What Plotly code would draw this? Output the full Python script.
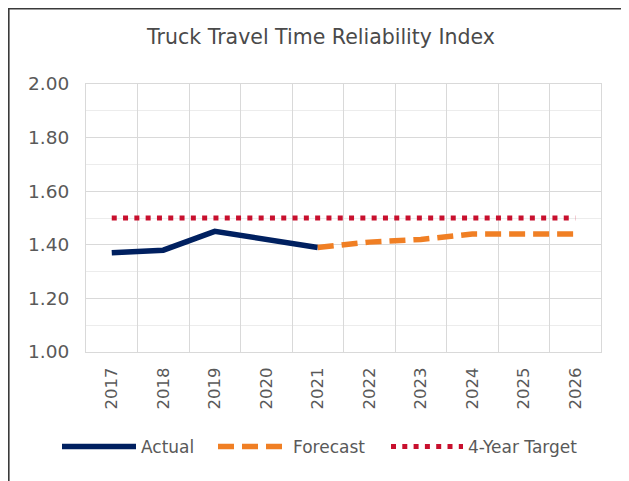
import plotly.graph_objects as go

years = ["2017", "2018", "2019", "2020", "2021", "2022", "2023", "2024", "2025", "2026"]
actual_years = ["2017", "2018", "2019", "2020", "2021"]
actual = [1.37, 1.38, 1.45, 1.42, 1.39]
forecast_years = ["2021", "2022", "2023", "2024", "2025", "2026"]
forecast = [1.39, 1.41, 1.42, 1.44, 1.44, 1.44]
target = [1.50] * 10

# page body has an 8px margin, so the figure is drawn from (8,8)
W, H = 621, 473
ml, mr, mt, mb = 78, 28, 76, 129
pw, ph = W - ml - mr, H - mt - mb


def px_x(screen_x):
    return (screen_x - 8 - ml) / pw


fig = go.Figure()
fig.add_trace(go.Scatter(x=actual_years, y=actual, mode="lines", name="Actual",
                         line=dict(color="#002060", width=5.5), legend="legend"))
fig.add_trace(go.Scatter(x=forecast_years, y=forecast, mode="lines", name="Forecast",
                         line=dict(color="#F07F24", width=5.5, dash="16px,8px"),
                         legend="legend2"))
fig.add_trace(go.Scatter(x=years, y=target, mode="lines", name="4-Year Target",
                         line=dict(color="#C8102E", width=5, dash="5px,6.3px"),
                         legend="legend3"))

# dark outer frame of the chart
fig.add_shape(type="rect", xref="paper", yref="paper",
              x0=(0.8 - ml) / pw, x1=(614 - ml) / pw,
              y0=-1.0, y1=(ph + mt - 0.8) / ph,
              line=dict(color="#3a3a3a", width=1.6), fillcolor="rgba(0,0,0,0)", layer="above")

leg = dict(orientation="h", xanchor="left", y=-95 / ph, yanchor="middle",
           font=dict(size=17, color="#595959"), bgcolor="rgba(0,0,0,0)")

fig.update_layout(
    width=W, height=H,
    margin=dict(l=ml, r=mr, t=mt, b=mb, autoexpand=False),
    paper_bgcolor="white", plot_bgcolor="white",
    font=dict(family="DejaVu Sans", color="#595959"),
    title=dict(text="Truck Travel Time Reliability Index", x=313 / W, xanchor="center",
               y=1 - 29 / H, yanchor="middle",
               font=dict(size=20.5, color="#4a4a4a")),
    showlegend=True,
    legend=dict(leg, x=px_x(57), itemwidth=74),
    legend2=dict(leg, x=px_x(213), itemwidth=70),
    legend3=dict(leg, x=px_x(386), itemwidth=72),
    xaxis=dict(type="category", categoryorder="array", categoryarray=years,
               tickson="boundaries", ticks="", tickangle=-90, ticklabelstandoff=8,
               showgrid=True, gridcolor="#d9d9d9", gridwidth=1,
               showline=True, linecolor="#d9d9d9", mirror=True,
               tickfont=dict(size=16.5, color="#595959"), range=[-0.5, 9.5]),
    yaxis=dict(range=[1.0, 2.0], dtick=0.2, tick0=1.0, tickformat=".2f",
               showgrid=True, gridcolor="#d9d9d9", gridwidth=1,
               minor=dict(dtick=0.1, showgrid=True, gridcolor="#ececec"),
               showline=True, linecolor="#d9d9d9", mirror=True, zeroline=False,
               ticks="", ticklabelstandoff=12, tickfont=dict(size=18.5, color="#595959")),
)

fig.write_html("out.html")
